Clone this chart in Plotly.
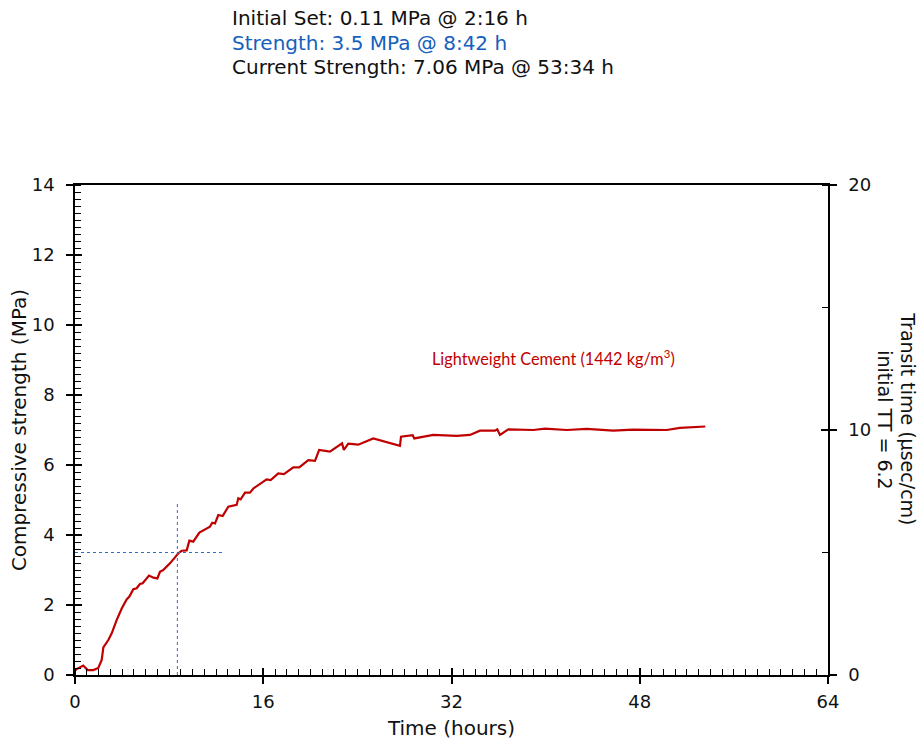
import plotly.graph_objects as go

# ---- data ----
time_h = [0.0, 0.14, 0.7, 1.08, 1.56, 1.98, 2.27, 2.41, 2.83, 3.12,
          3.54, 3.97, 4.39, 4.62, 4.96, 5.24, 5.52, 5.75, 6.29, 6.66,
          7.0, 7.22, 7.5, 7.79, 8.07, 8.5, 8.78, 9.07, 9.49, 9.72,
          10.05, 10.57, 11.47, 11.67, 11.9, 12.18, 12.55, 13.03, 13.74, 13.88,
          14.08, 14.45, 14.87, 15.16, 16.29, 16.63, 17.28, 17.76, 18.55, 19.06,
          19.83, 20.4, 20.75, 21.67, 22.7, 22.85, 23.23, 24.08, 25.35, 27.62,
          27.71, 28.7, 28.84, 30.45, 32.44, 33.57, 34.42, 35.7, 35.89, 36.12,
          36.83, 38.95, 39.95, 41.79, 43.49, 45.75, 47.45, 50.29, 51.42, 53.57]
strength_mpa = [0.12, 0.17, 0.27, 0.14, 0.14, 0.2, 0.43, 0.79, 1.0, 1.19,
                1.57, 1.9, 2.16, 2.24, 2.45, 2.48, 2.6, 2.62, 2.84, 2.78,
                2.76, 2.95, 3.0, 3.09, 3.19, 3.36, 3.48, 3.55, 3.56, 3.84,
                3.81, 4.07, 4.24, 4.35, 4.33, 4.57, 4.54, 4.81, 4.86, 5.05,
                5.02, 5.21, 5.21, 5.33, 5.59, 5.57, 5.76, 5.74, 5.93, 5.93,
                6.14, 6.12, 6.43, 6.38, 6.62, 6.43, 6.61, 6.58, 6.76, 6.55,
                6.81, 6.85, 6.76, 6.86, 6.83, 6.86, 6.98, 6.98, 7.02, 6.86,
                7.02, 7.0, 7.04, 7.0, 7.03, 6.98, 7.01, 7.0, 7.06, 7.1]

# crosshair marking 3.5 MPa @ 8:42 h
mark_time = 8.7
mark_strength = 3.5
hline_x = [0, 12.75]
vline_y = [0, 4.95]

header_lines = ["Initial Set: 0.11 MPa @ 2:16 h",
                "Strength: 3.5 MPa @ 8:42 h",
                "Current Strength: 7.06 MPa @ 53:34 h"]
header_colors = ["#111111", "#1560BD", "#111111"]

x_ticks = [0, 16, 32, 48, 64]
font_main = "DejaVu Sans, Verdana, sans-serif"

fig = go.Figure()

fig.add_trace(go.Scatter(x=time_h, y=strength_mpa, mode="lines",
                         line=dict(color="#C00000", width=2.2),
                         showlegend=False, hoverinfo="skip"))
fig.add_trace(go.Scatter(x=hline_x, y=[mark_strength, mark_strength], mode="lines",
                         line=dict(color="#2E6EC0", width=1, dash="dot"),
                         showlegend=False, hoverinfo="skip"))
fig.add_trace(go.Scatter(x=[mark_time, mark_time], y=vline_y, mode="lines",
                         line=dict(color="#2E6EC0", width=1, dash="dot"),
                         showlegend=False, hoverinfo="skip"))
# dummy traces to attach helper axes
fig.add_trace(go.Scatter(x=[], y=[], yaxis="y2", showlegend=False))
fig.add_trace(go.Scatter(x=[], y=[], yaxis="y3", showlegend=False))
fig.add_trace(go.Scatter(x=[], y=[], yaxis="y4", showlegend=False))
fig.add_trace(go.Scatter(x=[], y=[], xaxis="x2", showlegend=False))

tickfont = dict(family=font_main, size=18, color="#111111")
axis_line = dict(showline=True, linecolor="black", linewidth=1.5,
                 showgrid=False, zeroline=False, automargin=False)
helper = dict(showticklabels=False, showline=False, showgrid=False, zeroline=False,
              ticks="inside", ticklen=7, tickwidth=1.5, tickcolor="black",
              automargin=False)

fig.update_layout(
    width=921, height=742,
    margin=dict(l=75, r=93, t=185, b=67),
    paper_bgcolor="white", plot_bgcolor="white",
    xaxis=dict(range=[0, 64], tickvals=x_ticks, ticks="outside", ticklen=7,
               tickwidth=1.5, tickcolor="black", mirror=True, **axis_line,
               minor=dict(dtick=1, ticks="inside", ticklen=6, tickwidth=1.3,
                          tickcolor="black", showgrid=False),
               tickfont=tickfont, ticklabelstandoff=3,
               title=dict(text="Time (hours)", font=dict(family=font_main, size=20, color="#111111"),
                          standoff=10)),
    xaxis2=dict(range=[0, 64], tickvals=x_ticks, overlaying="x", anchor="y", side="bottom",
                **helper),
    yaxis=dict(range=[0, 14], dtick=2, ticks="outside", ticklen=7, tickwidth=1.5,
               tickcolor="black", **axis_line,
               minor=dict(dtick=0.2, ticks="inside", ticklen=6, tickwidth=1.3,
                          tickcolor="black", showgrid=False),
               tickfont=tickfont, ticklabelstandoff=8,
               title=dict(text="Compressive strength (MPa)",
                          font=dict(family=font_main, size=20, color="#111111"),
                          standoff=0)),
    yaxis3=dict(range=[0, 14], dtick=2, overlaying="y", anchor="x", side="left", **helper),
    yaxis2=dict(range=[0, 20], dtick=10, overlaying="y", anchor="x", side="right",
                ticks="outside", ticklen=7, tickwidth=1.5, tickcolor="black",
                **axis_line,
                minor=dict(dtick=5, ticks="inside", ticklen=6, tickwidth=1.3,
                           tickcolor="black", showgrid=False),
                tickfont=tickfont, ticklabelstandoff=8),
    yaxis4=dict(range=[0, 20], dtick=10, overlaying="y", anchor="x", side="right", **helper),
)

# header text lines
header_y = [1.341, 1.290, 1.241]
for txt, col, yy in zip(header_lines, header_colors, header_y):
    fig.add_annotation(text=txt, xref="paper", yref="paper", x=0.206, y=yy,
                       xanchor="left", yanchor="middle", showarrow=False,
                       font=dict(family=font_main, size=20, color=col))

# right axis title (two rotated lines)
right_title = ["Transit time (µsec/cm)", "initial TT = 6.2"]
right_title_x = [1.1062, 1.0757]
for txt, xx in zip(right_title, right_title_x):
    fig.add_annotation(text=txt, xref="paper", yref="paper", x=xx, y=0.522, textangle=90,
                       showarrow=False, xanchor="center", yanchor="middle",
                       font=dict(family=font_main, size=19, color="#111111"))

# series label
fig.add_annotation(text="Lightweight Cement (1442 kg/m<sup>3</sup>)",
                   x=40.7, y=9.06, xref="x", yref="y", showarrow=False,
                   font=dict(family="Lato, Open Sans, sans-serif", size=16.3, color="#C00000"))

fig.write_html("out.html", config={"displayModeBar": False},
               post_script="document.body.style.margin='0';document.body.style.overflow='hidden';")
